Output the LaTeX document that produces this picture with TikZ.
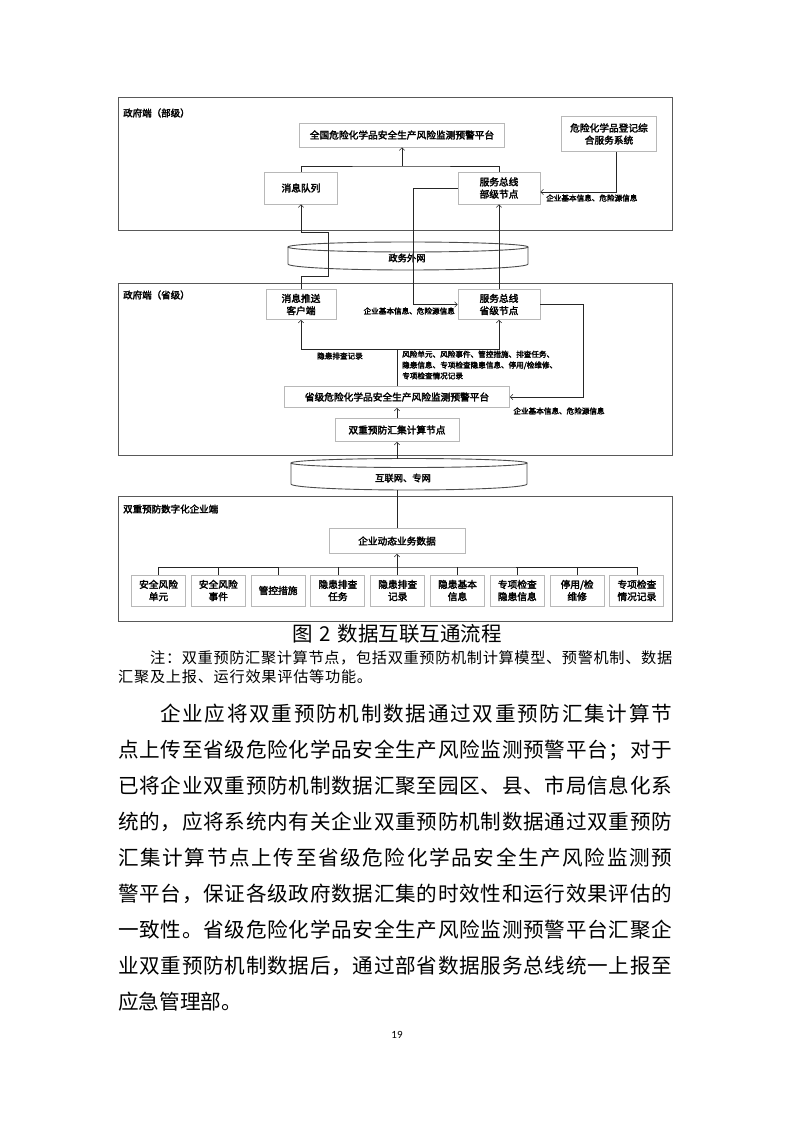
\documentclass[tikz,border=0pt]{standalone}
\usepackage{fontspec}
\newfontfamily\cjk{Noto Sans CJK SC}
\newfontfamily\cjkb[FakeBold=2.5]{Noto Sans CJK SC}
\newfontfamily\lat{Carlito}
\usetikzlibrary{arrows.meta}
\makeatletter
\newcommand\jline[2]{\hbox to #1{\@tfor\jx:=#2\do{\jx\hfil}\unskip}}
\makeatother
\tikzset{
  frame/.style={draw=black!65, line width=1.1pt, anchor=north west, inner sep=0pt},
  box/.style={draw=black!28, line width=0.9pt, fill=white, align=center, inner sep=0pt,
    font=\cjkb\fontsize{9.7}{12.2}\selectfont},
  flabel/.style={anchor=west, inner sep=0pt, font=\cjkb\fontsize{9.5}{12}\selectfont},
  small/.style={inner sep=0pt, font=\cjkb\fontsize{7.6}{10.8}\selectfont},
  conn/.style={draw=black!85, line width=0.75pt},
  arr/.style={conn, -{Straight Barb[length=2.6pt,width=5.5pt,line width=0.5pt]}},
  cyl/.style={draw=black!70, line width=0.9pt},
  body/.style={anchor=west, inner sep=0pt, font=\cjk\fontsize{20.6}{24}\selectfont},
  note/.style={anchor=west, inner sep=0pt, font=\cjk\fontsize{15.2}{18}\selectfont},
}
\begin{document}
\begin{tikzpicture}[x=1pt,y=-1pt]
\fill[white] (0,0) rectangle (794,1123);
\useasboundingbox (0,0) rectangle (794,1123);

% ---------- frame 1 : ministry ----------
\node[frame, minimum width=554pt, minimum height=133pt] (f1) at (118,97) {};
\node[flabel] (l1) at (123,113) {政府端（部级）};
\node[box, minimum width=205pt, minimum height=24pt] (natp) at (402,135) {全国危险化学品安全生产风险监测预警平台};
\node[box, minimum width=95pt, minimum height=35pt] (reg) at (609,134) {危险化学品登记综\\合服务系统};
\node[box, minimum width=73pt, minimum height=32pt] (mq) at (301,188) {消息队列};
\node[box, minimum width=82pt, minimum height=32pt] (bus1) at (499,188) {服务总线\\部级节点};
\coordinate (j1) at (402,166);
\draw[conn] (mq.north) |- (j1) -| (bus1.north);
\draw[arr] (j1) -- (natp.south);
\draw[arr] ([xshift=7pt]reg.south) |- ([yshift=-4pt]bus1.east);
\node[small, anchor=west] (lab1) at (546,198) {企业基本信息、危险源信息};

% ---------- cylinder : gov extranet ----------
\draw[cyl] (408,247) ellipse [x radius=120, y radius=5];
\draw[cyl] (288,247) -- (288,264) arc[start angle=180, end angle=0, x radius=120, y radius=6] -- (528,247);
\node[inner sep=0pt, font=\cjkb\fontsize{9.3}{11}\selectfont] (gov) at (407,258) {政务外网};

% ---------- frame 2 : province ----------
\node[frame, minimum width=554pt, minimum height=172pt] (f2) at (118,283) {};
\node[flabel] (l2) at (123,295) {政府端（省级）};
\node[box, minimum width=70pt, minimum height=30pt] (mc) at (301,304.5) {消息推送\\客户端};
\node[box, minimum width=82pt, minimum height=30pt] (bus2) at (499,304.5) {服务总线\\省级节点};
\node[box, minimum width=225pt, minimum height=21pt] (pp) at (397,397) {省级危险化学品安全生产风险监测预警平台};
\node[box, minimum width=124pt, minimum height=23pt] (hub) at (397,430) {双重预防汇集计算节点};

\draw[arr] (mc.north) -- ++(0,-13) -- ++(27,0) -- ++(0,-44) -- ++(-27,0) -- (mq.south);
\draw[arr] (bus1.west) -- ++(-44,0) |- (bus2.west);
\draw[arr] (bus2.north) -- (bus1.south);
\node[small, anchor=east] (lab2) at (455,311) {企业基本信息、危险源信息};
\draw[arr] (bus2.east) -- ++(43,0) |- (pp.east);
\node[small] (lab3) at (559,411) {企业基本信息、危险源信息};
\coordinate (j2) at (397,349);
\draw[conn] (pp.north) -- (j2);
\draw[arr] (j2) -| (mc.south);
\draw[arr] (j2) -| (bus2.south);
\node[small] (lab4) at (340,356) {隐患排查记录};
\node[small, anchor=north west, align=left] (lab5) at (402,350.5) {风险单元、风险事件、管控措施、排查任务、\\隐患信息、专项检查隐患信息、停用/检维修、\\专项检查情况记录};
\draw[arr] (hub.north) -- (pp.south);

% ---------- cylinder : internet ----------
\draw[cyl] (409,463) ellipse [x radius=118, y radius=4.5];
\draw[cyl] (291,463) -- (291,484) arc[start angle=180, end angle=0, x radius=118, y radius=6] -- (527,463);
\node[inner sep=0pt, font=\cjkb\fontsize{9.3}{11}\selectfont] (net) at (403,478) {互联网、专网};
\coordinate (nettop) at (397,458.5);
\coordinate (netbot) at (397,490);
\draw[arr] (nettop) -- (hub.south);

% ---------- frame 3 : enterprise ----------
\node[frame, minimum width=554pt, minimum height=125pt] (f3) at (118,496) {};
\node[flabel] (l3) at (123,509) {双重预防数字化企业端};
\node[box, minimum width=136pt, minimum height=25pt] (ent) at (397,541) {企业动态业务数据};
\draw[conn] (ent.north) -- (netbot);
\foreach \i/\t in {0/{安全风险\\单元},1/{安全风险\\事件},2/{管控措施},3/{隐患排查\\任务},4/{隐患排查\\记录},5/{隐患基本\\信息},6/{专项检查\\隐患信息},7/{停用/检\\维修},8/{专项检查\\情况记录}}{
  \node[box, minimum width=54pt, minimum height=31pt] (b\i) at ({158.5+59.8*\i},590.5) {\t};
}
\coordinate (j3) at (397,567);
\draw[conn] (b0.north) |- (j3) -| (b8.north);
\foreach \i in {1,...,7}{ \draw[conn] (b\i.north) -- ++(0,-8); }
\draw[arr] (j3) -- (ent.south);

% ---------- caption & text ----------
\node[inner sep=0pt, font=\cjk\fontsize{20.5}{22}\selectfont] (cap) at (397,634) {图\hspace{7pt}2\hspace{7pt}数据互联互通流程};
\node[note] (n1) at (150,658) {\jline{522pt}{注：双重预防汇聚计算节点，包括双重预防机制计算模型、预警机制、数据}};
\node[note] (n2) at (118,677) {\jline{254pt}{汇聚及上报、运行效果评估等功能。}};

\node[body] (t1) at (160,714) {\jline{512pt}{企业应将双重预防机制数据通过双重预防汇集计算节}};
\node[body] (t2) at (118,750) {\jline{554pt}{点上传至省级危险化学品安全生产风险监测预警平台；对于}};
\node[body] (t3) at (118,786) {\jline{554pt}{已将企业双重预防机制数据汇聚至园区、县、市局信息化系}};
\node[body] (t4) at (118,822) {\jline{554pt}{统的，应将系统内有关企业双重预防机制数据通过双重预防}};
\node[body] (t5) at (118,858) {\jline{554pt}{汇集计算节点上传至省级危险化学品安全生产风险监测预}};
\node[body] (t6) at (118,894) {\jline{554pt}{警平台，保证各级政府数据汇集的时效性和运行效果评估的}};
\node[body] (t7) at (118,930) {\jline{554pt}{一致性。省级危险化学品安全生产风险监测预警平台汇聚企}};
\node[body] (t8) at (118,966) {\jline{554pt}{业双重预防机制数据后，通过部省数据服务总线统一上报至}};
\node[body] (t9) at (118,1002) {\jline{122pt}{应急管理部。}};
\node[inner sep=0pt, font=\lat\fontsize{11}{13}\selectfont] (pg) at (397,1035) {19};
\end{tikzpicture}
\end{document}
